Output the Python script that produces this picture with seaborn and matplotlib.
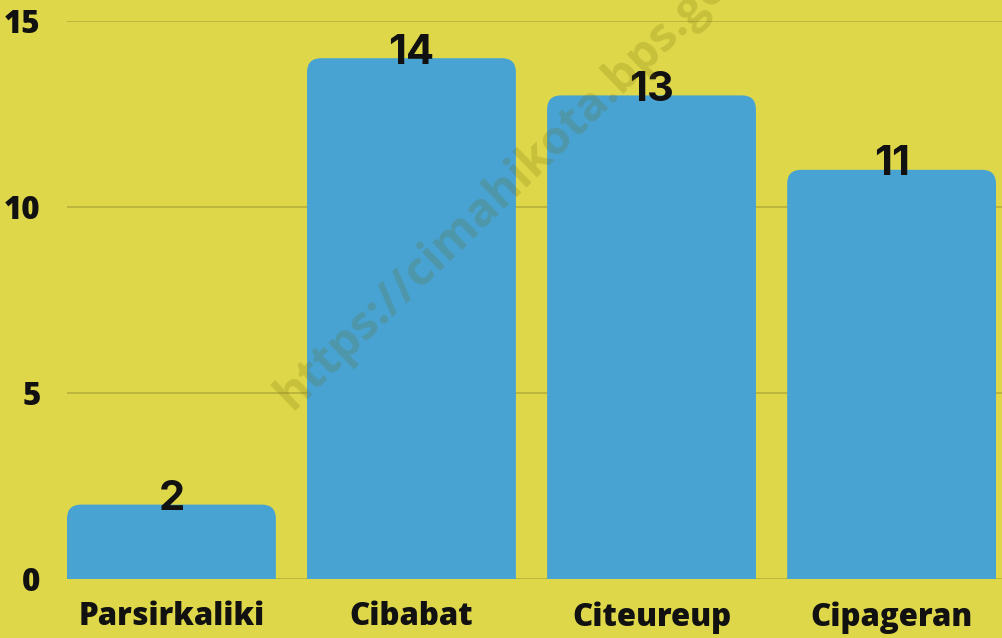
import matplotlib
matplotlib.use("Agg")
import matplotlib.pyplot as plt
import seaborn as sns
import pandas as pd
from matplotlib.patches import FancyBboxPatch

categories = ["Parsirkaliki", "Cibabat", "Citeureup", "Cipageran"]
values = [2, 14, 13, 11]
yticks = [0, 5, 10, 15]

BG = "#DED74A"
BAR = "#48A3D3"
GRID = "#B3AC3A"

sns.set_theme(style="white")
plt.rcParams["font.family"] = ["Open Sans", "DejaVu Sans"]

df = pd.DataFrame({"cat": categories, "val": values})

W, H = 1002, 638
fig = plt.figure(figsize=(W / 100, H / 100), dpi=100, facecolor=BG)
ax = fig.add_axes([67 / W, 59 / H, (W - 67) / W, 558 / H])
ax.set_facecolor(BG)

sns.barplot(data=df, x="cat", y="val", color=BAR, width=0.87, ax=ax,
            saturation=1, zorder=2)

ax.set_xlim(-0.435, 3.46)
ax.set_ylim(0, 15)

xpp = (3.46 + 0.435) / (W - 67)
ypp = 15 / 558
r_px = 14
for p in list(ax.patches):
    x0, w, h = p.get_x(), p.get_width(), p.get_height()
    p.set_visible(False)
    fb = FancyBboxPatch((x0, -1), w, h + 1,
                        boxstyle=f"round,pad=0,rounding_size={r_px * xpp}",
                        mutation_aspect=ypp / xpp,
                        facecolor=BAR, edgecolor="none", zorder=2)
    ax.add_patch(fb)

for i, v in enumerate(values):
    ax.text(i, v + 0.15, str(v), ha="center", va="center", fontsize=30,
            fontweight="bold", family=["Inter", "DejaVu Sans"],
            color="#111111", zorder=4, clip_on=False)

ax.set_yticks(yticks)
ax.set_yticklabels([str(t) for t in yticks])
for y in yticks:
    ax.axhline(y, color=GRID, lw=1.1, zorder=1)

for s in ax.spines.values():
    s.set_visible(False)
ax.tick_params(axis="both", length=0, labelsize=22.5, labelcolor="#111111")
ax.tick_params(axis="y", pad=19)
ax.tick_params(axis="x", pad=16)
for lab in ax.get_xticklabels() + ax.get_yticklabels():
    lab.set_fontweight(800)
ax.set_xlabel("")
ax.set_ylabel("")

fig.text(523 / W, 1 - 170 / H, "https://cimahikota.bps.go.id", rotation=44,
         ha="center", va="center", fontsize=34, fontweight="bold",
         color="#6b6400", alpha=0.2, zorder=10)

fig.savefig("out.png", dpi=100, facecolor=BG)
